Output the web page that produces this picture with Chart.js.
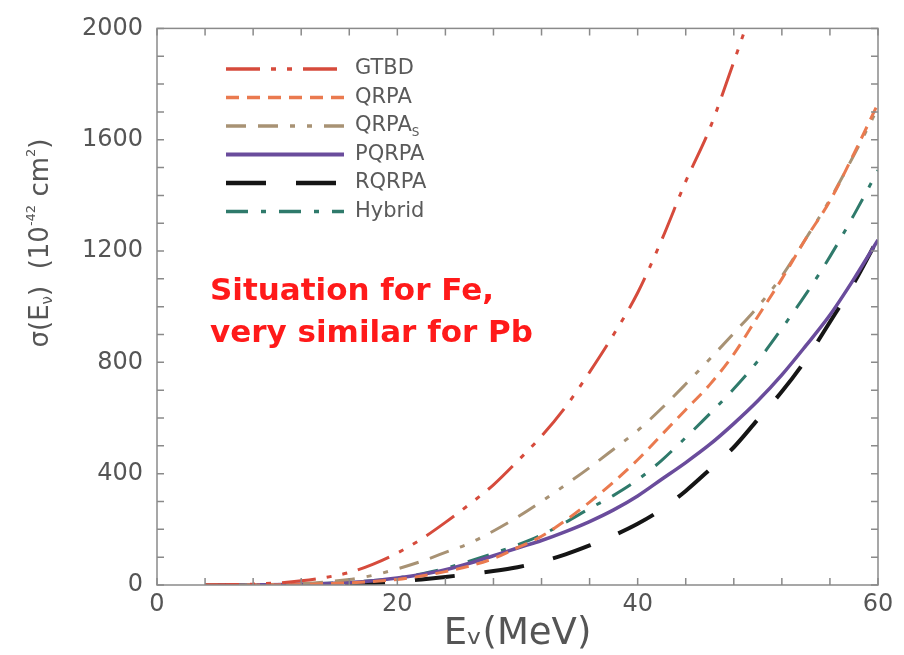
<!DOCTYPE html>
<html>
<head>
<meta charset="utf-8">
<script src="https://cdn.jsdelivr.net/npm/chart.js@4.4.1/dist/chart.umd.min.js"></script>
<style>
  body { margin: 0; background: #fff; }
  #wrap { width: 904px; height: 655px; }
</style>
</head>
<body>
<div id="wrap"><canvas id="myChart" width="904" height="655"></canvas></div>
<script>
// neutrino energies (MeV) shared by all curves
const energy = [4, 8, 12, 16, 18, 20, 22, 24, 26, 28, 30, 32, 34, 36, 38, 40, 42, 44, 46, 48, 50, 52, 54, 56, 58, 60];

// cross sections in 10^-42 cm^2
const gtbd   = [0, 3, 15, 45, 75, 115, 165, 225, 290, 360, 445, 535, 640, 765, 900, 1050, 1240, 1450, 1640, 1880, 2130, null, null, null, null, null];
const qrpa   = [0, 0, 2, 8, 13, 20, 32, 48, 68, 95, 134, 175, 232, 298, 370, 450, 540, 630, 720, 830, 965, 1100, 1245, 1380, 1550, 1730];
const qrpaS  = [0, 1, 5, 20, 35, 58, 85, 117, 150, 194, 244, 300, 360, 422, 488, 555, 635, 722, 812, 905, 1000, 1110, 1245, 1385, 1545, 1715];
const pqrpa  = [0, 1, 3, 9, 15, 25, 38, 55, 78, 105, 133, 160, 192, 228, 270, 320, 380, 440, 505, 580, 662, 755, 860, 970, 1100, 1240];
const rqrpa  = [0, 0, 1, 4, 7, 12, 20, 29, 39, 50, 64, 84, 110, 142, 178, 220, 272, 338, 415, 495, 595, 695, 810, 945, 1085, 1245];
const hybrid = [0, 0, 2, 10, 16, 25, 40, 60, 86, 114, 144, 180, 225, 275, 322, 378, 448, 530, 615, 705, 805, 922, 1045, 1180, 1330, 1490];

const xTicksMajor = [0, 20, 40, 60];
const yTicksMajor = [0, 400, 800, 1200, 1600, 2000];

function toPoints(values) {
  return energy.map((e, i) => ({ x: e, y: values[i] }));
}

const frameTicks = {
  id: "frameTicks",
  afterDatasetsDraw(chart) {
    const { ctx, chartArea: a, scales } = chart;
    ctx.save();
    ctx.strokeStyle = "#8a8a8a";
    ctx.lineWidth = 1.5;
    ctx.strokeRect(a.left, a.top, a.right - a.left, a.bottom - a.top);
    ctx.beginPath();
    scales.x.ticks.forEach((t) => {
      const px = scales.x.getPixelForValue(t.value);
      ctx.moveTo(px, a.bottom); ctx.lineTo(px, a.bottom - 7);
      ctx.moveTo(px, a.top); ctx.lineTo(px, a.top + 7);
    });
    scales.y.ticks.forEach((t) => {
      const py = scales.y.getPixelForValue(t.value);
      ctx.moveTo(a.left, py); ctx.lineTo(a.left + 7, py);
      ctx.moveTo(a.right, py); ctx.lineTo(a.right - 7, py);
    });
    ctx.stroke();
    ctx.restore();
  },
};

// draws a run of [text, size, baselineShift] pieces left to right
function drawRuns(ctx, runs, x, y) {
  runs.forEach(([txt, size, shift]) => {
    ctx.font = size + "px 'DejaVu Sans'";
    ctx.fillText(txt, x, y + shift);
    x += ctx.measureText(txt).width;
  });
}

const insideLegend = {
  id: "insideLegend",
  afterDraw(chart) {
    const ctx = chart.ctx;
    ctx.save();
    chart.data.datasets.forEach((ds, i) => {
      const y = 69 + i * 28.5;
      ctx.strokeStyle = ds.borderColor;
      ctx.lineWidth = ds.borderWidth + 0.5;
      ctx.setLineDash(ds.borderDash || []);
      ctx.beginPath();
      ctx.moveTo(226, y);
      ctx.lineTo(344, y);
      ctx.stroke();
      ctx.setLineDash([]);
      ctx.fillStyle = "#5a5a5a";
      ctx.textBaseline = "middle";
      if (ds.label === "QRPAs") {
        drawRuns(ctx, [["QRPA", 21, 0], ["S", 12, 7]], 355, y);
      } else {
        drawRuns(ctx, [[ds.label, 21, 0]], 355, y);
      }
    });

    // y axis title, rotated
    ctx.save();
    ctx.translate(41, 243);
    ctx.rotate(-Math.PI / 2);
    ctx.fillStyle = "#555";
    ctx.textBaseline = "middle";
    const runs = [["σ(E", 26, 0], ["ν", 15, 7], [")  (10", 26, 0], ["-42", 13, -9], [" cm", 26, 0], ["2", 13, -9], [")", 26, 0]];
    let w = 0;
    runs.forEach(([txt, size]) => { ctx.font = size + "px 'DejaVu Sans'"; w += ctx.measureText(txt).width; });
    drawRuns(ctx, runs, -w / 2, 0);
    ctx.restore();

    ctx.font = "bold 31px 'Comic Sans MS', 'DejaVu Sans'";
    ctx.fillStyle = "#ff1a1a";
    ctx.textBaseline = "alphabetic";
    ctx.fillText("Situation for Fe,", 210, 300);
    ctx.fillText("very similar for Pb", 210, 342);
    ctx.restore();
  },
};

function renderChart() {
  const ctx = document.getElementById("myChart");

  new Chart(ctx, {
    type: "line",
    data: {
      datasets: [
        { label: "GTBD", data: toPoints(gtbd), borderColor: "#d64b3c", borderWidth: 3, borderDash: [34, 11, 5, 11, 5, 11] },
        { label: "QRPA", data: toPoints(qrpa), borderColor: "#ea7a4f", borderWidth: 3, borderDash: [13, 8] },
        { label: "QRPAs", data: toPoints(qrpaS), borderColor: "#a89274", borderWidth: 3, borderDash: [20, 12, 20, 12, 5, 12, 5, 12] },
        { label: "PQRPA", data: toPoints(pqrpa), borderColor: "#6a4c9c", borderWidth: 3.5, borderDash: [] },
        { label: "RQRPA", data: toPoints(rqrpa), borderColor: "#151515", borderWidth: 4, borderDash: [40, 30] },
        { label: "Hybrid", data: toPoints(hybrid), borderColor: "#2f7a6b", borderWidth: 3, borderDash: [22, 13, 5, 13] },
      ],
    },
    options: {
      responsive: false,
      animation: false,
      layout: { padding: { left: 0, top: 17, right: 26, bottom: 0 } },
      elements: {
        point: { radius: 0 },
        line: { cubicInterpolationMode: "monotone", fill: false },
      },
      plugins: { legend: { display: false }, tooltip: { enabled: false } },
      scales: {
        x: {
          type: "linear",
          min: 0,
          max: 60,
          afterFit: (s) => { s.height = 70; },
          grid: { display: false, drawTicks: false },
          border: { display: false },
          ticks: {
            stepSize: 4,
            autoSkip: false,
            maxRotation: 0,
            padding: 5,
            color: "#555",
            font: { family: "DejaVu Sans", size: 24 },
            callback: (v) => (xTicksMajor.includes(v) ? v : ""),
          },
          title: {
            display: true,
            text: "Eᵥ(MeV)",
            color: "#555",
            font: { family: "DejaVu Sans", size: 37 },
            padding: { top: 0, bottom: -2 },
          },
        },
        y: {
          min: 0,
          max: 2000,
          afterFit: (s) => { s.width = 157; },
          grid: { display: false, drawTicks: false },
          border: { display: false },
          ticks: {
            stepSize: 100,
            autoSkip: false,
            padding: 14,
            color: "#555",
            font: { family: "DejaVu Sans", size: 24 },
            callback: (v) => (yTicksMajor.includes(v) ? v : ""),
          },
          title: { display: false },
        },
      },
    },
    plugins: [frameTicks, insideLegend],
  });
}

renderChart();
</script>
</body>
</html>
